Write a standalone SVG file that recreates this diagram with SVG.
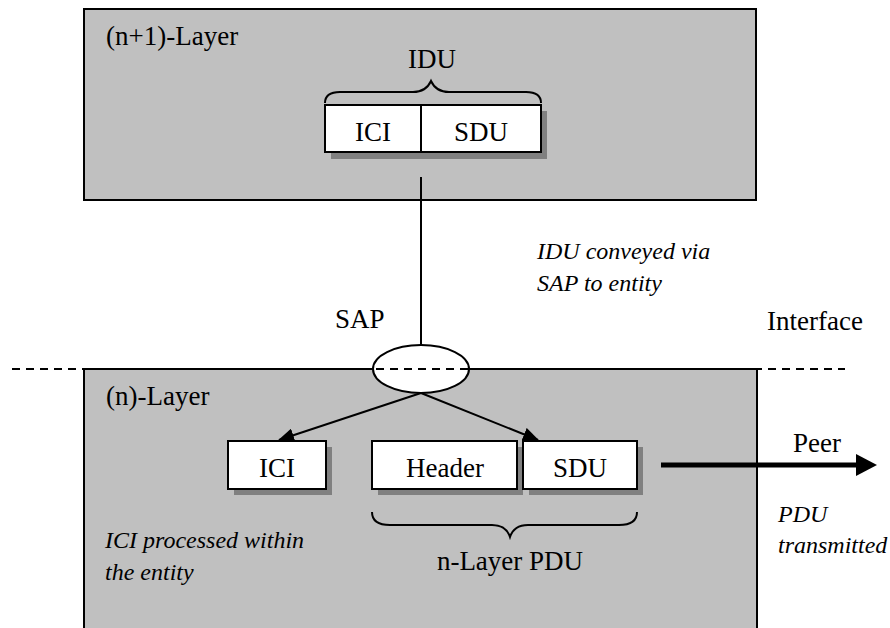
<svg xmlns="http://www.w3.org/2000/svg" width="890" height="628" viewBox="0 0 890 628" font-family="'Liberation Serif', 'Times New Roman', Times, serif">
<defs>
<style>
.layer{fill:#c0c0c0;stroke:#000;stroke-width:2}
.box{fill:#fff;stroke:#000;stroke-width:2}
.shadow{fill:#808080}
.t{font-family:'Liberation Serif', Times, serif;font-size:27px;fill:#000}
.i{font-family:'Liberation Serif', Times, serif;font-size:24px;font-style:italic;fill:#000}
.c{text-anchor:middle}
.ln{stroke:#000;stroke-width:2;fill:none}
</style>
<marker id="ah" markerWidth="16" markerHeight="14" refX="15" refY="7" orient="auto" markerUnits="userSpaceOnUse">
<path d="M0,0 L16,7 L0,14 Z" fill="#000"/>
</marker>
</defs>
<rect width="890" height="628" fill="#fff"/>

<g id="upper-layer">
<rect class="layer" x="84" y="9" width="672" height="191"/>
<text class="t" x="106" y="45">(n+1)-Layer</text>
</g>

<g id="lower-layer">
<rect class="layer" x="84" y="369" width="673" height="270"/>
<text class="t" x="106" y="405">(n)-Layer</text>
</g>

<g id="idu">
<rect class="shadow" x="331" y="111" width="216" height="48"/>
<rect class="box" x="325" y="105" width="96" height="47"/>
<rect class="box" x="421" y="105" width="120" height="47"/>
<text class="t c" x="373" y="141">ICI</text>
<text class="t c" x="481" y="141">SDU</text>
<path class="ln" d="M325,103 Q325,92 340,92 L413,92 Q426,92 431,81 Q436,92 449,92 L526,92 Q541,92 541,103"/>
<text class="t c" x="432" y="68">IDU</text>
</g>

<g id="sap">
<ellipse cx="421" cy="369" rx="48" ry="24" fill="#fff" stroke="#000" stroke-width="2"/>
<text class="t" x="335" y="328">SAP</text>
</g>

<g id="ici">
<rect class="shadow" x="234" y="447" width="98" height="48"/>
<rect class="box" x="228" y="441" width="98" height="48"/>
<text class="t c" x="277" y="477">ICI</text>
</g>

<g id="header">
<rect class="shadow" x="378" y="447" width="145" height="48"/>
<rect class="box" x="372" y="441" width="145" height="48"/>
<text class="t c" x="445" y="477">Header</text>
</g>

<g id="sdu">
<rect class="shadow" x="529" y="447" width="114" height="48"/>
<rect class="box" x="523" y="441" width="114" height="48"/>
<text class="t c" x="580" y="477">SDU</text>
</g>

<g id="pdu">
<path class="ln" d="M372,512 Q372,525 390,525 L492,525 Q506,525 510,537 Q514,525 528,525 L619,525 Q637,525 637,512"/>
<text class="t c" x="510" y="570">n-Layer PDU</text>
</g>

<g id="connectors">
<line x1="12" y1="369" x2="845" y2="369" stroke="#000" stroke-width="2" stroke-dasharray="8,6"/>
<line class="ln" x1="421" y1="177" x2="421" y2="345"/>
<line class="ln" x1="421" y1="393" x2="279" y2="440" marker-end="url(#ah)"/>
<line class="ln" x1="421" y1="393" x2="538" y2="440" marker-end="url(#ah)"/>
<line x1="661" y1="465" x2="860" y2="465" stroke="#000" stroke-width="5"/>
<path d="M856,454 L877,465 L856,476 Z" fill="#000"/>
</g>

<g id="labels">
<text class="i" x="537" y="259">IDU conveyed via</text>
<text class="i" x="537" y="291">SAP to entity</text>
<text class="t" x="767" y="330">Interface</text>
<text class="t" x="793" y="452">Peer</text>
<text class="i" x="778" y="522">PDU</text>
<text class="i" x="778" y="553">transmitted</text>
<text class="i" x="105" y="548">ICI processed within</text>
<text class="i" x="105" y="580">the entity</text>
</g>
</svg>
